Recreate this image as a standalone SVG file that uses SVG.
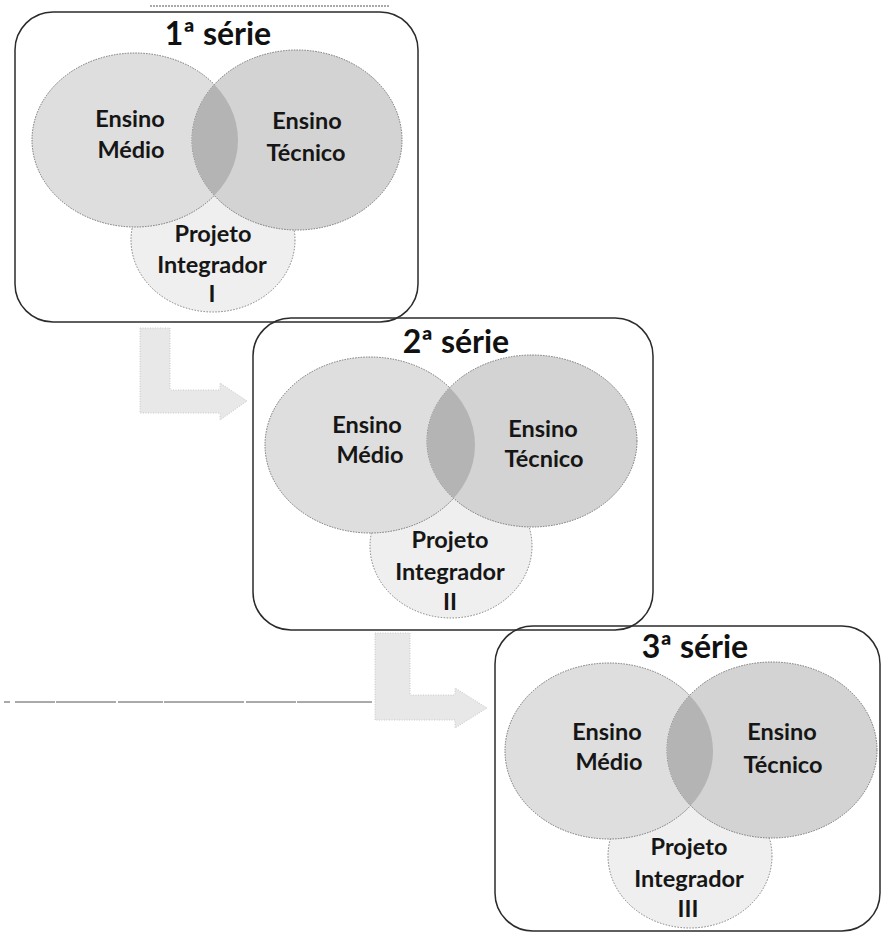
<svg xmlns="http://www.w3.org/2000/svg" width="882" height="933" viewBox="0 0 882 933">
<style>
.box{fill:none;stroke:#2b2b2b;stroke-width:1.5}
.cl{fill:#dedede;stroke:#747474;stroke-width:1;stroke-dasharray:1.5 1.2}
.cr{fill:#d3d3d3;stroke:#747474;stroke-width:1;stroke-dasharray:1.5 1.2}
.cb{fill:#efefef;stroke:#808080;stroke-width:1;stroke-dasharray:1.5 1.5}
.lens{fill:#b4b4b4}
.t{font-family:Lato,"Open Sans","Liberation Sans",sans-serif;font-weight:bold;font-size:23.5px;fill:#161616;text-anchor:middle}
.h{font-family:Lato,"Open Sans","Liberation Sans",sans-serif;font-weight:bold;font-size:32px;fill:#111;text-anchor:middle}
.arr{fill:#e8e8e8;stroke:#c8c8c8;stroke-width:1;stroke-dasharray:1 1.5}
.scan{fill:none;stroke:#555;stroke-width:1}
</style>
<defs>
<clipPath id="k1"><ellipse cx="135" cy="140" rx="103" ry="87"/></clipPath>
<clipPath id="k2"><ellipse cx="370" cy="445" rx="105" ry="88"/></clipPath>
<clipPath id="k3"><ellipse cx="609" cy="751" rx="104" ry="88"/></clipPath>
</defs>

<g id="connectors">
<path class="arr" d="M140,328 H170 V390 H220 V383 L247,401 L220,420 V413 H140 Z"/>
<path class="arr" d="M375,633 H410 V695 H455 V688 L487,708 L455,728 V720 H375 Z"/>
<path class="scan" d="M4,702 H372" stroke-dasharray="6 5 40 1 60 2 45 1 80 2 50 1 100"/>
<path class="scan" d="M150,6 H390" stroke="#9a9a9a" stroke-dasharray="2 1"/>
</g>

<g id="serie1">
<ellipse class="cb" cx="213" cy="240" rx="82" ry="72"/>
<ellipse class="cl" cx="135" cy="140" rx="103" ry="87"/>
<ellipse class="cr" cx="297" cy="140" rx="105" ry="90"/>
<ellipse class="lens" clip-path="url(#k1)" cx="297" cy="140" rx="105" ry="90"/>
<rect class="box" x="15" y="12" width="403" height="310" rx="38"/>
<text class="h" x="218" y="45">1ª série</text>
<text class="t" x="130" y="127">Ensino</text>
<text class="t" x="131" y="158">Médio</text>
<text class="t" x="307" y="129">Ensino</text>
<text class="t" x="306" y="161">Técnico</text>
<text class="t" x="213" y="242">Projeto</text>
<text class="t" x="212" y="273">Integrador</text>
<text class="t" x="212" y="302">I</text>
</g>

<g id="serie2">
<ellipse class="cb" cx="451" cy="546" rx="81" ry="72"/>
<ellipse class="cl" cx="370" cy="445" rx="105" ry="88"/>
<ellipse class="cr" cx="532" cy="441" rx="105" ry="86"/>
<ellipse class="lens" clip-path="url(#k2)" cx="532" cy="441" rx="105" ry="86"/>
<rect class="box" x="253" y="318" width="400" height="312" rx="38"/>
<text class="h" x="456" y="353">2ª série</text>
<text class="t" x="367" y="433">Ensino</text>
<text class="t" x="370" y="463">Médio</text>
<text class="t" x="543" y="437">Ensino</text>
<text class="t" x="544" y="467">Técnico</text>
<text class="t" x="450" y="548">Projeto</text>
<text class="t" x="450" y="580">Integrador</text>
<text class="t" x="450" y="610">II</text>
</g>

<g id="serie3">
<ellipse class="cb" cx="690" cy="856" rx="82" ry="72"/>
<ellipse class="cl" cx="609" cy="751" rx="104" ry="88"/>
<ellipse class="cr" cx="772" cy="750" rx="105" ry="88"/>
<ellipse class="lens" clip-path="url(#k3)" cx="772" cy="750" rx="105" ry="88"/>
<rect class="box" x="495" y="626" width="385" height="305" rx="38"/>
<text class="h" x="695" y="658">3ª série</text>
<text class="t" x="607" y="740">Ensino</text>
<text class="t" x="609" y="770">Médio</text>
<text class="t" x="782" y="740">Ensino</text>
<text class="t" x="783" y="773">Técnico</text>
<text class="t" x="689" y="855">Projeto</text>
<text class="t" x="689" y="887">Integrador</text>
<text class="t" x="688" y="917">III</text>
</g>
</svg>
